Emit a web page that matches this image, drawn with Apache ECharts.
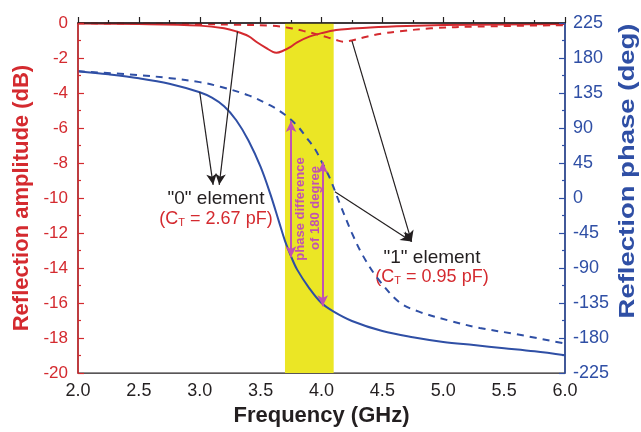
<!DOCTYPE html>
<html>
<head>
<meta charset="utf-8">
<script src="https://cdn.jsdelivr.net/npm/echarts@6/dist/echarts.min.js"></script>
<style>
  html, body { margin: 0; padding: 0; background: #fff; }
  #chart { width: 641px; height: 432px; }
</style>
</head>
<body>
<div id="chart"></div>
<script>
// 颜色
const RED = '#d42a2f'
const BLUE = '#2f4fa5'
const YELLOW = '#ebe625'
const MAGENTA = '#c152b2'
const INK = '#231f20'
const FONT = '"Liberation Sans", Arial, sans-serif'

// 反射幅度 "0" element (dB)
const ampFreq0 = [2.0, 2.5, 3.0, 3.2, 3.3, 3.4, 3.47, 3.55, 3.6, 3.63, 3.68, 3.75, 3.8, 3.9, 4.0, 4.12, 4.25, 4.4, 4.7, 5.0, 5.5, 6.0]
const amp0 = [-0.03, -0.06, -0.15, -0.3, -0.48, -0.75, -1.1, -1.45, -1.65, -1.7, -1.6, -1.35, -1.1, -0.78, -0.58, -0.4, -0.32, -0.25, -0.17, -0.12, -0.08, -0.05]

// 反射幅度 "1" element (dB)
const ampFreq1 = [2.0, 2.5, 3.0, 3.3, 3.6, 3.75, 3.85, 3.95, 4.05, 4.12, 4.18, 4.25, 4.37, 4.5, 4.64, 4.9, 5.3, 6.0]
const amp1 = [-0.02, -0.03, -0.06, -0.1, -0.16, -0.3, -0.45, -0.62, -0.82, -0.97, -1.07, -1.0, -0.78, -0.6, -0.48, -0.3, -0.2, -0.12]

// 反射相位 "0" element (deg)
const phaseFreq0 = [2.0, 2.25, 2.5, 2.75, 3.0, 3.1, 3.2, 3.3, 3.4, 3.5, 3.58, 3.65, 3.7, 3.75, 3.8, 3.9, 4.0, 4.1, 4.25, 4.5, 4.75, 5.0, 5.25, 5.5, 5.75, 6.0]
const phase0 = [163, 159, 154, 147, 136, 129, 118, 100, 74, 40, 5, -30, -55, -75, -92, -116, -135, -146, -158, -171, -179, -185, -189, -193, -197, -202]

// 反射相位 "1" element (deg)
const phaseFreq1 = [2.0, 2.5, 2.76, 3.0, 3.17, 3.4, 3.58, 3.7, 3.8, 3.88, 3.95, 4.0, 4.07, 4.15, 4.25, 4.34, 4.46, 4.64, 4.8, 5.06, 5.3, 5.6, 6.0]
const phase1 = [163, 158, 154, 149, 143, 132, 119, 107, 93, 77, 62, 47, 25, -7, -45, -74, -103, -134, -146, -158, -167, -175, -187]

// 高亮频段 (GHz)
const band = [3.7, 4.1]

// 相位差箭头 [freq, 上端相位, 下端相位]
const phaseArrows = [[3.75, 99, -76], [4.01, 46, -139]]

// 标注箭头 [起点freq, 起点相位, 终点freq, 终点相位]
const pointerArrows = [
  [3.0, 136, 3.11, 17],
  [3.31, 214, 3.16, 17],
  [4.25, 202, 4.74, -56],
  [4.11, 8, 4.74, -56]
]

const pairs = (xs, ys) => xs.map((x, i) => [x, ys[i]])

const chart = echarts.init(document.getElementById('chart'))

const markLineData = []
phaseArrows.forEach(a => {
  markLineData.push([
    { coord: [a[0], a[1]], symbol: 'arrow' },
    { coord: [a[0], a[2]], symbol: 'arrow', lineStyle: { color: MAGENTA, width: 2, type: 'solid' } }
  ])
})
pointerArrows.forEach(a => {
  markLineData.push([
    { coord: [a[0], a[1]], symbol: 'none' },
    { coord: [a[2], a[3]], symbol: 'arrow', lineStyle: { color: INK, width: 1.2, type: 'solid' }, itemStyle: { color: INK } }
  ])
})

const yTick = color => ({
  axisLine: { show: true, lineStyle: { color: color, width: 1.5 } },
  axisTick: { show: true, inside: true, length: 6, lineStyle: { color: color, width: 1.2 } },
  minorTick: { show: true, splitNumber: 2, length: 3, lineStyle: { color: color, width: 1.2 } },
  splitLine: { show: false }
})

const curve = (xs, ys, axis, color, dashed) => ({
  type: 'line', yAxisIndex: axis, data: pairs(xs, ys),
  showSymbol: false, smooth: 0.35,
  lineStyle: { color: color, width: 2, type: dashed ? [7, 6] : 'solid' }
})

const ampSolid = curve(ampFreq0, amp0, 0, RED, false)
ampSolid.markArea = {
  silent: true,
  itemStyle: { color: YELLOW },
  data: [[{ xAxis: band[0] }, { xAxis: band[1] }]]
}
const phaseSolid = curve(phaseFreq0, phase0, 1, BLUE, false)
phaseSolid.markLine = {
  silent: true, animation: false,
  symbolSize: [8, 11],
  label: { show: false },
  itemStyle: { color: MAGENTA },
  data: markLineData
}

const option = {
  animation: false,
  grid: { left: 78, right: 76, top: 23, bottom: 52, show: true, borderColor: INK, borderWidth: 1.2 },
  xAxis: {
    type: 'value', min: 2, max: 6, interval: 0.5, z: 5,
    axisLine: { lineStyle: { color: INK, width: 1.5 } },
    axisTick: { inside: true, length: 6, lineStyle: { color: INK, width: 1.2 } },
    minorTick: { show: true, splitNumber: 2, length: 3, lineStyle: { color: INK, width: 1.2 } },
    splitLine: { show: false },
    axisLabel: { formatter: v => v.toFixed(1), fontSize: 18, color: INK, margin: 9, fontFamily: FONT },
    name: 'Frequency (GHz)', nameLocation: 'middle', nameGap: 30,
    nameTextStyle: { fontSize: 22, fontWeight: 'bold', color: INK, fontFamily: FONT }
  },
  yAxis: [
    {
      type: 'value', min: -20, max: 0, interval: 2, z: 5,
      ...yTick(RED),
      axisLabel: { fontSize: 17, color: RED, margin: 10, fontFamily: FONT },
      name: 'Reflection amplitude (dB)', nameLocation: 'middle', nameRotate: 90, nameGap: 44,
      nameTextStyle: { fontSize: 22, fontWeight: 'bold', color: RED, fontFamily: FONT }
    },
    {
      type: 'value', min: -225, max: 225, interval: 45, position: 'right', z: 5,
      ...yTick(BLUE),
      axisLabel: { fontSize: 18, color: BLUE, margin: 8, fontFamily: FONT }
    }
  ],
  series: [
    ampSolid,
    curve(ampFreq1, amp1, 0, RED, true),
    phaseSolid,
    curve(phaseFreq1, phase1, 1, BLUE, true)
  ],
  graphic: [
    {
      type: 'text', x: 628, y: 171, rotation: Math.PI / 2, scaleX: 1.25,
      style: { text: 'Reflection phase (deg)', fill: BLUE, font: 'bold 22px ' + FONT, align: 'center', verticalAlign: 'middle' }
    },
    {
      type: 'text', x: 216, y: 199,
      style: { text: '"0" element', fill: INK, font: '19px ' + FONT, align: 'center', verticalAlign: 'middle' }
    },
    {
      type: 'text', x: 216, y: 219,
      style: {
        text: '(C{sub|T} = 2.67 pF)', fill: RED, font: '18px ' + FONT, align: 'center', verticalAlign: 'middle',
        rich: { sub: { fontSize: 11, fill: RED, verticalAlign: 'bottom', padding: [8, 0, 0, 0], fontFamily: FONT } }
      }
    },
    {
      type: 'text', x: 432, y: 258,
      style: { text: '"1" element', fill: INK, font: '19px ' + FONT, align: 'center', verticalAlign: 'middle' }
    },
    {
      type: 'text', x: 432, y: 277,
      style: {
        text: '(C{sub|T} = 0.95 pF)', fill: RED, font: '18px ' + FONT, align: 'center', verticalAlign: 'middle',
        rich: { sub: { fontSize: 11, fill: RED, verticalAlign: 'bottom', padding: [8, 0, 0, 0], fontFamily: FONT } }
      }
    },
    {
      type: 'text', x: 300, y: 209, rotation: Math.PI / 2, z: 10,
      style: { text: 'phase difference', fill: MAGENTA, font: 'bold 13px ' + FONT, align: 'center', verticalAlign: 'middle' }
    },
    {
      type: 'text', x: 315, y: 208, rotation: Math.PI / 2, z: 10,
      style: { text: 'of 180 degree', fill: MAGENTA, font: 'bold 13px ' + FONT, align: 'center', verticalAlign: 'middle' }
    }
  ]
}

chart.setOption(option)
</script>
</body>
</html>
